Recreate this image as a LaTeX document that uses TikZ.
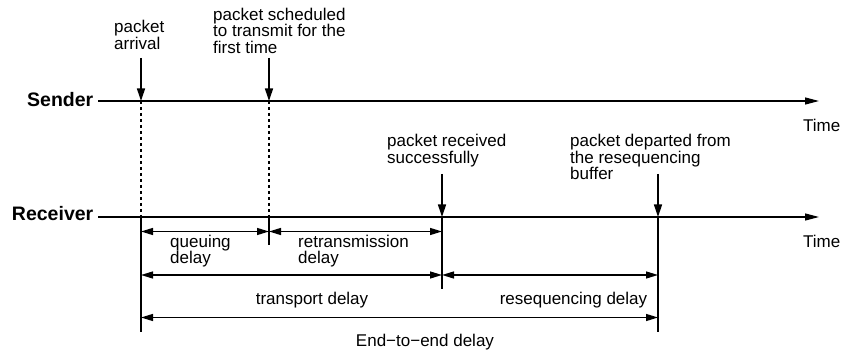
\documentclass[tikz,border=0pt]{standalone}
\usepackage{fontspec}
\setmainfont{Liberation Sans}
\usetikzlibrary{arrows.meta,positioning}
\newcommand\evlen{43pt}
\newcommand\lgap{4.5pt}
\newcommand\rowa{231.5}
\newcommand\rowb{275}
\newcommand\rowc{317.5}

\tikzset{
  axis/.style={line width=1.3pt, -{Triangle[length=14pt,width=7pt]}},
  event/.style={line width=1.3pt, -{Triangle[length=12.5pt,width=8pt]}},
  span/.style={line width=1.3pt, {Triangle[length=12pt,width=7pt]}-{Triangle[length=12pt,width=7pt]}},
  tick/.style={line width=1.2pt},
  guide/.style={line width=1.1pt, dash pattern=on 3pt off 3pt},
  role/.style={font=\fontsize{19.5}{20}\selectfont\bfseries, inner sep=0pt},
  note/.style={font=\fontsize{17}{16.4}\selectfont, align=left, inner sep=0pt},
}

\begin{document}
\begin{tikzpicture}[x=1pt,y=-1pt]
  \useasboundingbox (0,0) rectangle (841,352);
  % time axes
  \coordinate (send start) at (98,101);
  \coordinate (send end) at (819,101);
  \coordinate (recv start) at (98,217);
  \coordinate (recv end) at (819,217);
  \node[role, left=\lgap of send start, yshift=1.5pt] (sender) {Sender};
  \node[role, left=\lgap of recv start, yshift=3pt] (receiver) {Receiver};
  \node[note, anchor=base west] (time send) at ([shift={(-16,30.5)}]send end) {Time};
  \node[note, anchor=base west] (time recv) at ([shift={(-16,31)}]recv end) {Time};
  \draw[axis] (send start) -- (send end);
  \draw[axis] (recv start) -- (recv end);

  % events
  \coordinate (arrival) at (141,101);
  \coordinate (sched) at (269,101);
  \coordinate (recvd) at (442,217);
  \coordinate (depart) at (658,217);
  \coordinate[above=\evlen of arrival] (arrival top);
  \coordinate[above=\evlen of sched] (sched top);
  \coordinate[above=\evlen of recvd] (recvd top);
  \coordinate[above=\evlen of depart] (depart top);
  \coordinate (arrival foot) at (arrival |- recv start);
  \coordinate (sched foot) at (sched |- recv start);
  % lower ends of the ticks
  \coordinate (arrival low) at (141,332);
  \coordinate (sched low) at (269,245);
  \coordinate (recvd low) at (442,289);
  \coordinate (depart low) at (658,332);

  % event labels
  \node[note, anchor=north west] (arrival lab) at (114,20.2) {packet\\arrival};
  \node[note, anchor=north west] (sched lab) at (213,8) {packet scheduled\\to transmit for the\\first time};
  \node[note, anchor=north west] (recvd lab) at (387,134.2) {packet received\\successfully};
  \node[note, anchor=north west] (depart lab) at (570,134.2) {packet departed from\\the resequencing\\buffer};

  \draw[event] (arrival top) -- (arrival);
  \draw[event] (sched top) -- (sched);
  \draw[event] (recvd top) -- (recvd);
  \draw[event] (depart top) -- (depart);
  \draw[guide] (arrival) -- (arrival foot);
  \draw[guide] (sched) -- (sched foot);
  \draw[tick] (arrival foot) -- (arrival low);
  \draw[tick] (sched foot) -- (sched low);
  \draw[tick] (recvd) -- (recvd low);
  \draw[tick] (depart) -- (depart low);

  % delay rows
  \foreach \ev in {arrival,sched,recvd,depart}{
    \coordinate (\ev-1) at (\ev |- 0,\rowa);
    \coordinate (\ev-2) at (\ev |- 0,\rowb);
    \coordinate (\ev-3) at (\ev |- 0,\rowc);
  }
  \draw[span] (arrival-1) -- (sched-1);
  \draw[span] (sched-1) -- (recvd-1);
  \draw[span] (arrival-2) -- (recvd-2);
  \draw[span] (recvd-2) -- (depart-2);
  \draw[span] (arrival-3) -- (depart-3);

  % delay labels
  \node[note, anchor=north west] (queue lab) at (170,234.8) {queuing\\delay};
  \node[note, anchor=north west] (retx lab) at (298,234.8) {retransmission\\delay};
  \node[note, anchor=base] (transport lab) at (312,305) {transport delay};
  \node[note, anchor=base] (reseq lab) at (573.5,305) {resequencing delay};
  \node[note, anchor=base] (e2e lab) at (425,347) {End−to−end delay};
\end{tikzpicture}
\end{document}
